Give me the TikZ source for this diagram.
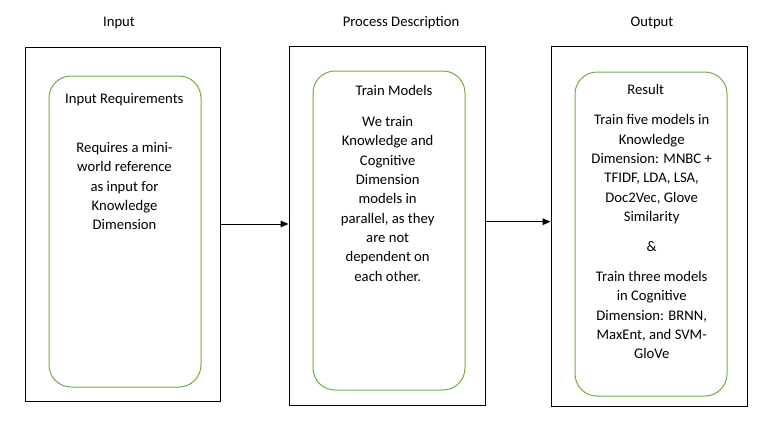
\documentclass[tikz,border=0pt]{standalone}
\usepackage{fontspec}
\setmainfont{Carlito}
\usetikzlibrary{arrows.meta}
\definecolor{offgreen}{HTML}{70AD47}
\begin{document}
\begin{tikzpicture}[x=0.75pt,y=-0.75pt,
  font=\fontsize{11pt}{14.5pt}\selectfont,
  outerbox/.style={draw=black,line width=0.75pt,inner sep=0pt,rectangle},
  greenbox/.style={draw=offgreen,line width=0.75pt,inner sep=0pt,rectangle,rounded corners=16.5pt,minimum width=114pt},
  txt/.style={inner sep=0pt,align=center,text=black},
  conn/.style={line width=0.75pt,-{Triangle[length=6pt,width=5pt]}}]
\useasboundingbox (0,0) rectangle (772,439);
% column titles
\node[txt] (t1) at (119,23) {Input};
\node[txt] (t2) at (401,23) {Process Description};
\node[txt] (t3) at (652,23) {Output};
% outer boxes
\node[outerbox,minimum width=146.25pt,minimum height=265.5pt] (box1) at (122.5,224) {};
\node[outerbox,minimum width=147pt,minimum height=269.25pt] (box2) at (387,225.5) {};
\node[outerbox,minimum width=147pt,minimum height=270pt] (box3) at (649,226) {};
% green rounded boxes
\node[greenbox,minimum height=233.25pt] (g1) at (125,231.5) {};
\node[greenbox,minimum height=239.25pt] (g2) at (389,230.5) {};
\node[greenbox,minimum height=243pt] (g3) at (651,234) {};
% texts
\node[txt] (h1) at (124.3,100) {Input Requirements};
\node[txt] (b1) at (124.5,186.3) {Requires a mini-\\world reference\\as input for\\Knowledge\\Dimension};
\node[txt] (h2) at (394,90.3) {Train Models};
\node[txt] (b2) at (387.7,198.7) {We train\\Knowledge and\\Cognitive\\Dimension\\models in\\parallel, as they\\are not\\dependent on\\each other.};
\node[txt] (h3) at (645.7,89.3) {Result};
\node[txt] (b3) at (651.7,236.7) {Train five models in\\Knowledge\\Dimension: MNBC +\\TFIDF, LDA, LSA,\\Doc2Vec, Glove\\Similarity\\[8pt]\&\\[8pt]Train three models\\in Cognitive\\Dimension: BRNN,\\MaxEnt, and SVM-\\GloVe};
% connectors
\draw[conn] (box1.east) -- (box1.east -| box2.west);
\coordinate (a2) at ([yshift=2.85pt]box2.east);
\draw[conn] (a2) -- (a2 -| box3.west);
\end{tikzpicture}
\end{document}
